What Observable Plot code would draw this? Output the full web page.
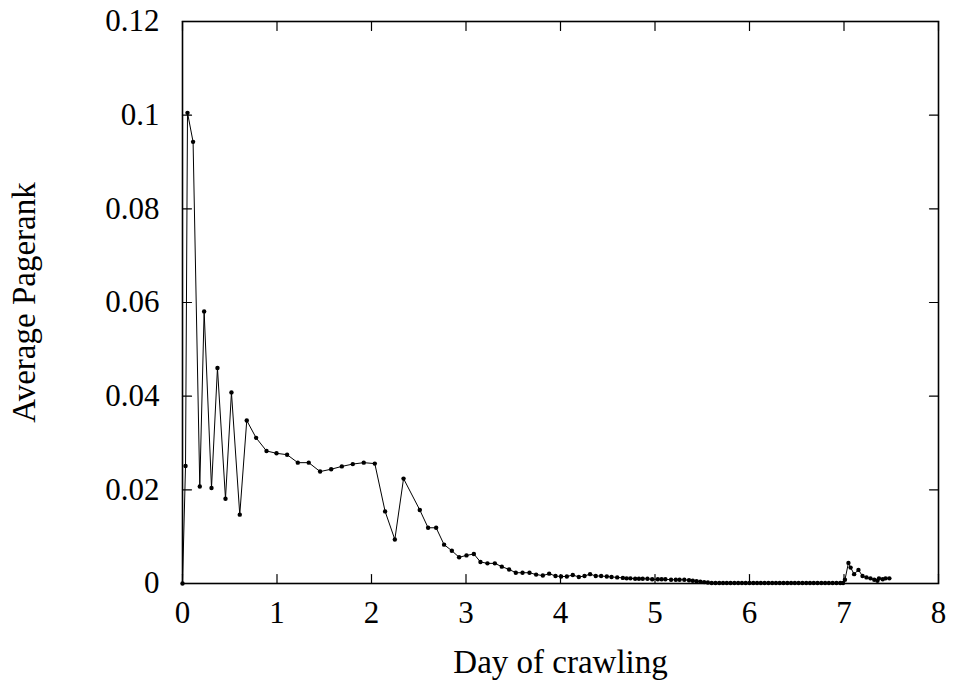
<!DOCTYPE html>
<html>
<head>
<meta charset="utf-8">
<script src="https://cdn.jsdelivr.net/npm/d3@7"></script>
<script src="https://cdn.jsdelivr.net/npm/@observablehq/plot@0.6"></script>
<style>
  html, body { margin: 0; padding: 0; background: #fff; }
  #chart svg { display: block; }
</style>
</head>
<body>
<div id="chart"></div>
<script>
// Day of crawling (x) and average pagerank (y)
const days = [
  0, 0.032, 0.053, 0.112, 0.183, 0.229, 0.307, 0.37, 0.455, 0.518,
  0.606, 0.68, 0.779, 0.889, 0.995, 1.107, 1.22, 1.336, 1.456, 1.573,
  1.686, 1.802, 1.918, 2.035, 2.144, 2.247, 2.339, 2.511, 2.599, 2.684,
  2.768, 2.85, 2.927, 3.005, 3.083, 3.153, 3.227, 3.305, 3.379, 3.456,
  3.527, 3.598, 3.672, 3.742, 3.813, 3.880, 3.947, 4.006, 4.067, 4.130,
  4.194, 4.254, 4.313, 4.373,
  4.43, 4.49, 4.54, 4.60, 4.66, 4.70, 4.74, 4.79, 4.83, 4.87,
  4.92, 4.97, 5.03, 5.07, 5.11, 5.17, 5.22, 5.26, 5.31, 5.36,
  5.40, 5.44, 5.48, 5.52, 5.56,
  5.60, 5.64, 5.68, 5.72, 5.76, 5.80, 5.84, 5.88, 5.92, 5.96,
  6.00, 6.04, 6.08, 6.12, 6.16, 6.20, 6.24, 6.28, 6.32, 6.36,
  6.40, 6.44, 6.48, 6.52, 6.56, 6.60, 6.64, 6.68, 6.72, 6.76,
  6.80, 6.84, 6.88, 6.92, 6.96, 6.99,
  7.01, 7.047, 7.07, 7.107, 7.153, 7.196, 7.238, 7.28, 7.32, 7.354,
  7.37, 7.41, 7.44, 7.48
];
const pagerank = [
  0, 0.0251, 0.1005, 0.0943, 0.0207, 0.0581, 0.0204, 0.0460, 0.0181, 0.0408,
  0.0147, 0.0348, 0.0311, 0.0283, 0.0278, 0.0275, 0.0258, 0.0258, 0.0239, 0.0244,
  0.0250, 0.0255, 0.0258, 0.0256, 0.0154, 0.0094, 0.0224, 0.0157, 0.0119, 0.0119,
  0.0083, 0.0070, 0.0056, 0.0060, 0.0063, 0.0046, 0.0043, 0.0043, 0.0036, 0.0030,
  0.0023, 0.0023, 0.0023, 0.0019, 0.0017, 0.0021, 0.0016, 0.0015, 0.0015, 0.0018,
  0.0014, 0.0016, 0.0020, 0.0016,
  0.0016, 0.0015, 0.0014, 0.0013, 0.0012, 0.0011, 0.0011, 0.0010, 0.0010, 0.0010,
  0.0010, 0.0009, 0.0009, 0.0009, 0.0009, 0.0008, 0.0008, 0.0008, 0.0008, 0.0007,
  0.0006, 0.0005, 0.0004, 0.0003, 0.0002,
  0.0001, 0.0001, 0.0001, 0.0001, 0.0001, 0.0001, 0.0001, 0.0001, 0.0001, 0.0001,
  0.0001, 0.0001, 0.0001, 0.0001, 0.0001, 0.0001, 0.0001, 0.0001, 0.0001, 0.0001,
  0.0001, 0.0001, 0.0001, 0.0001, 0.0001, 0.0001, 0.0001, 0.0001, 0.0001, 0.0001,
  0.0001, 0.0001, 0.0001, 0.0001, 0.0001, 0.0001,
  0.0008, 0.0044, 0.0034, 0.0020, 0.0029, 0.0016, 0.0013, 0.0011, 0.0008, 0.0006,
  0.0011, 0.0009, 0.0011, 0.0011
];
const xTicks = [0, 1, 2, 3, 4, 5, 6, 7, 8];
const yTicks = [0, 0.02, 0.04, 0.06, 0.08, 0.1, 0.12];
const xDomain = [0, 8];
const yDomain = [0, 0.12];
const xTitle = "Day of crawling";
const yTitle = "Average Pagerank";

const data = days.map((d, i) => ({day: d, pr: pagerank[i]}));

const tickShape = {
  draw(context, l) { context.moveTo(0, 0); context.lineTo(0, -l); }
};
const font = "'Liberation Serif', 'Times New Roman', serif";
const fs = 31;
const titleFs = 33;

const chart = Plot.plot({
  width: 955,
  height: 691,
  marginLeft: 182,
  marginRight: 17,
  marginTop: 21,
  marginBottom: 108,
  style: {fontFamily: font, fontSize: fs + "px", color: "black", background: "white"},
  x: {domain: xDomain},
  y: {domain: yDomain},
  marks: [
    Plot.axisX(xTicks, {anchor: "bottom", tickSize: 0, tickPadding: 17, fontSize: fs,
      tickFormat: d3.format("d"), label: null}),
    Plot.axisY(yTicks, {anchor: "left", tickSize: 0, tickPadding: 23, fontSize: fs,
      tickFormat: d => d === 0 ? "0" : String(+d.toFixed(2)), label: null}),
    Plot.text([xTitle], {text: d => d, frameAnchor: "bottom", textAnchor: "middle", lineAnchor: "bottom", dy: 89,
      fontSize: titleFs, fill: "black"}),
    Plot.text([yTitle], {text: d => d, frameAnchor: "left", textAnchor: "middle", rotate: -90, lineAnchor: "top", dx: -171,
      fontSize: titleFs, fill: "black"}),
    // inward ticks on all four sides (gnuplot style)
    Plot.vector(xTicks, {x: d => d, y: yDomain[0], length: 9, rotate: 0, anchor: "start", shape: tickShape, stroke: "black", strokeWidth: 1.2}),
    Plot.vector(xTicks, {x: d => d, y: yDomain[1], length: 9, rotate: 180, anchor: "start", shape: tickShape, stroke: "black", strokeWidth: 1.2}),
    Plot.vector(yTicks, {x: xDomain[0], y: d => d, length: 9, rotate: 90, anchor: "start", shape: tickShape, stroke: "black", strokeWidth: 1.2}),
    Plot.vector(yTicks, {x: xDomain[1], y: d => d, length: 9, rotate: -90, anchor: "start", shape: tickShape, stroke: "black", strokeWidth: 1.2}),
    Plot.line(data, {x: "day", y: "pr", stroke: "black", strokeWidth: 1}),
    Plot.dot(data, {x: "day", y: "pr", r: 2.2, fill: "black", stroke: "none"}),
    Plot.frame({stroke: "black", strokeWidth: 1.6})
  ]
});
document.getElementById("chart").appendChild(chart);
</script>
</body>
</html>
